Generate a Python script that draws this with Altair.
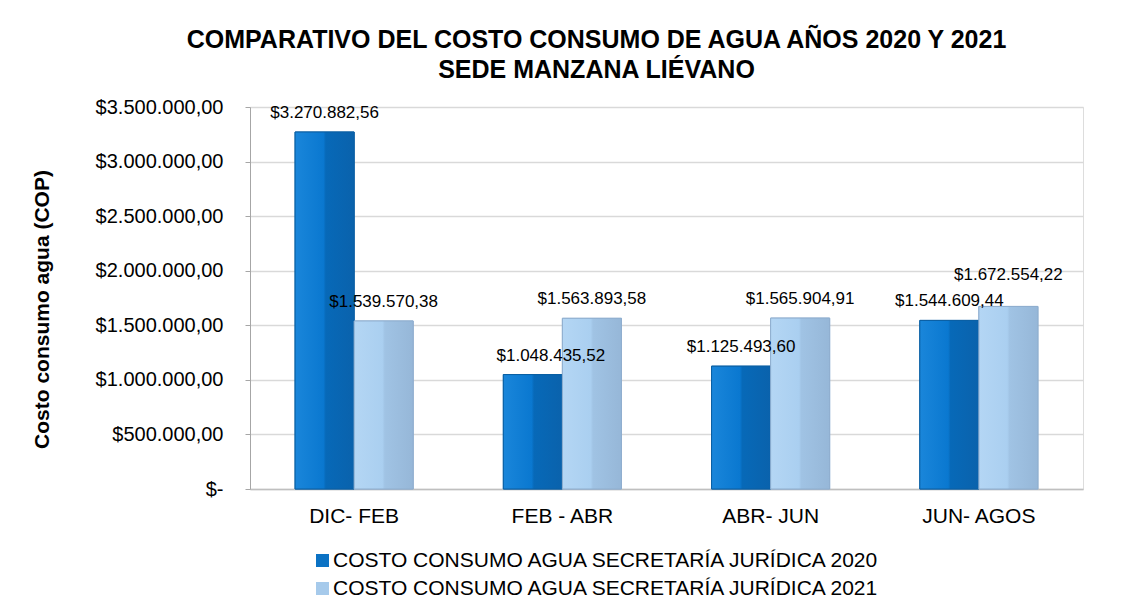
import altair as alt
import pandas as pd

periods = ["DIC- FEB", "FEB - ABR", "ABR- JUN", "JUN- AGOS"]
series = ["COSTO CONSUMO AGUA SECRETARÍA JURÍDICA 2020",
          "COSTO CONSUMO AGUA SECRETARÍA JURÍDICA 2021"]
v2020 = [3270882.56, 1048435.52, 1125493.60, 1544609.44]
v2021 = [1539570.38, 1563893.58, 1565904.91, 1672554.22]
y_ticks = [0, 500000, 1000000, 1500000, 2000000, 2500000, 3000000, 3500000]

rows = []
for p, a, b in zip(periods, v2020, v2021):
    rows.append({"periodo": p, "serie": series[0], "valor": a})
    rows.append({"periodo": p, "serie": series[1], "valor": b})
df = pd.DataFrame(rows)

FONT = "Liberation Sans"
C20 = "#0B72C4"
C21 = "#A6CAEB"


def fmt(v):
    return ("'$' + replace(replace(replace(format(" + v + ", ',.2f'), regexp(',', 'g'), '_'), "
            "regexp('[.]', 'g'), ','), regexp('_', 'g'), '.')")


x_enc = alt.X("periodo:N", sort=periods, title=None,
              scale=alt.Scale(paddingInner=0.433, paddingOuter=0.2165),
              axis=alt.Axis(labelAngle=0, labelFont=FONT, labelFontSize=21, labelColor="#000000",
                            ticks=False, labelPadding=16, domainColor="#BFBFBF", domainWidth=1.5,
                            grid=False))
xo_enc = alt.XOffset("serie:N", sort=series, scale=alt.Scale(paddingInner=0, paddingOuter=0))
y_enc = alt.Y("valor:Q", title="Costo consumo agua (COP)",
              scale=alt.Scale(domain=[0, 3500000], nice=False),
              axis=alt.Axis(values=y_ticks,
                            labelExpr="datum.value == 0 ? '$-' : " + fmt("datum.value"),
                            labelFont=FONT, labelFontSize=20, labelColor="#000000",
                            labelPadding=22, tickSize=5, tickColor="#A6A6A6",
                            domainColor="#A6A6A6", domainWidth=1,
                            gridColor="#D9D9D9", gridWidth=1.5,
                            titleFont=FONT, titleFontSize=21, titleFontWeight="bold",
                            titleColor="#000000", titleAngle=-90, titleX=-208, titleY=202,
                            titleAlign="center", titleBaseline="middle"))

base = alt.Chart(df).encode(x=x_enc, xOffset=xo_enc, y=y_enc)

bars = base.mark_bar(strokeWidth=1).encode(
    color=alt.Color("serie:N", sort=series,
                    scale=alt.Scale(domain=series, range=[C20, C21]),
                    legend=alt.Legend(title=None, orient="none", legendX=62, legendY=443,
                                      direction="vertical", symbolType="square",
                                      symbolSize=170, symbolStrokeWidth=0,
                                      labelFont=FONT, labelFontSize=21, labelColor="#000000",
                                      labelOffset=0, rowPadding=6, labelLimit=900)),
    stroke=alt.Stroke("serie:N", scale=alt.Scale(domain=series, range=["#0A5FA3", "#8FAECF"]),
                      legend=None),
)

grad20 = alt.Gradient(gradient="linear", x1=0, x2=1, y1=0, y2=0,
                      stops=[alt.GradientStop(offset=0, color="#1A86DA"),
                             alt.GradientStop(offset=0.48, color="#0A78D0"),
                             alt.GradientStop(offset=0.52, color="#0769B8"),
                             alt.GradientStop(offset=1, color="#0A62AC")])
grad21 = alt.Gradient(gradient="linear", x1=0, x2=1, y1=0, y2=0,
                      stops=[alt.GradientStop(offset=0, color="#B4D6F4"),
                             alt.GradientStop(offset=0.48, color="#AACFF0"),
                             alt.GradientStop(offset=0.52, color="#A0C3E4"),
                             alt.GradientStop(offset=1, color="#96B7D8")])

over20 = base.mark_bar(fill=grad20, stroke="#0A5FA3", strokeWidth=1).transform_filter(
    alt.datum.serie == series[0])
over21 = base.mark_bar(fill=grad21, stroke="#8FAECF", strokeWidth=1).transform_filter(
    alt.datum.serie == series[1])

special_a = (alt.datum.periodo == "FEB - ABR") & (alt.datum.serie == series[0])
special_b = (alt.datum.periodo == "JUN- AGOS") & (alt.datum.serie == series[1])

txt_base = base.transform_calculate(lbl=fmt("datum.valor")).encode(text="lbl:N")

labels = txt_base.mark_text(font=FONT, fontSize=17, color="#000000", dy=-14,
                            baseline="alphabetic").transform_filter(
    ~special_a & ~special_b)
labels_a = txt_base.mark_text(font=FONT, fontSize=17, color="#000000", dy=-14, dx=18,
                              baseline="alphabetic").transform_filter(special_a)
labels_b = txt_base.mark_text(font=FONT, fontSize=17, color="#000000", dy=-26,
                              baseline="alphabetic").transform_filter(special_b)

chart = alt.layer(bars, over20, over21,
                  labels, labels_a, labels_b).properties(
    width=833, height=382,
    title=alt.TitleParams(
        text=["COMPARATIVO DEL COSTO CONSUMO DE AGUA AÑOS 2020 Y 2021",
              "SEDE MANZANA LIÉVANO"],
        font=FONT, fontSize=25, fontWeight="bold", color="#000000",
        anchor="middle", dx=-70, offset=14, lineHeight=30),
    autosize=alt.AutoSizeParams(type="none"),
    padding={"left": 242, "top": 99, "right": 46, "bottom": 113},
).configure_view(stroke=None).configure(background="#FFFFFF")

chart.save("out.html", embed_options={"renderer": "svg", "actions": False})
